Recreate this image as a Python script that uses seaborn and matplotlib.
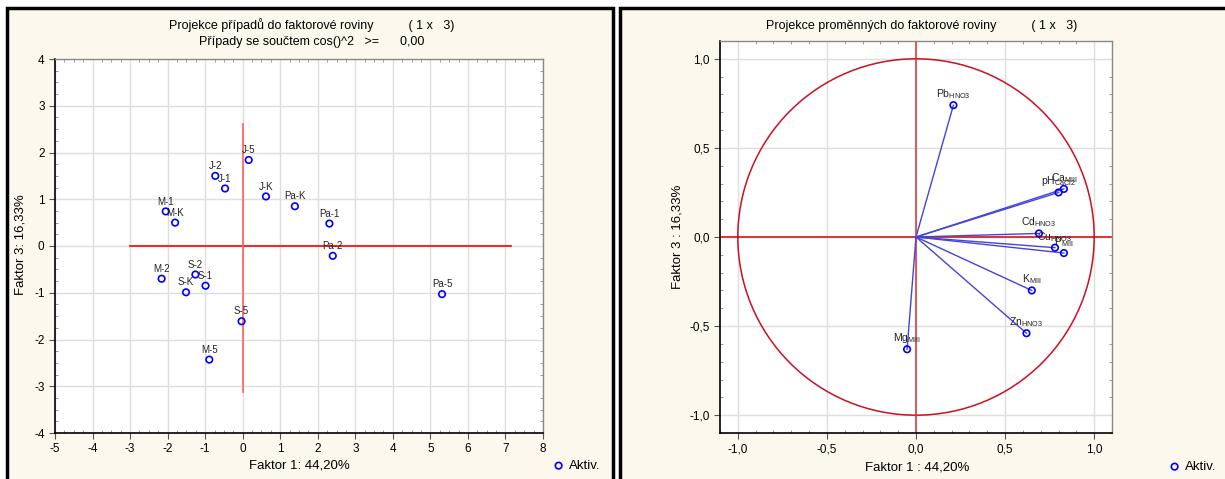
import numpy as np
import seaborn as sns
import matplotlib.pyplot as plt
from matplotlib.patches import Rectangle, Circle
from matplotlib.ticker import MultipleLocator, FuncFormatter

# --- data ---
case_labels = ['J-5', 'J-2', 'J-1', 'J-K', 'Pa-K', 'M-1', 'M-K', 'Pa-1', 'Pa-2',
               'M-2', 'S-2', 'S-1', 'S-K', 'S-5', 'M-5', 'Pa-5']
case_f1 = [0.16, -0.73, -0.47, 0.62, 1.39, -2.05, -1.80, 2.31, 2.40,
           -2.16, -1.26, -0.99, -1.51, -0.03, -0.89, 5.31]
case_f3 = [1.84, 1.50, 1.23, 1.06, 0.85, 0.74, 0.50, 0.48, -0.21,
           -0.70, -0.61, -0.85, -0.99, -1.61, -2.43, -1.03]

var_labels = [r'Pb$_{\rm HNO3}$', r'Ca$_{\rm MIII}$', r'pH$_{\rm CaCl2}$', r'Cd$_{\rm HNO3}$',
              r'Cu$_{\rm HNO3}$', r'P$_{\rm MIII}$', r'K$_{\rm MIII}$', r'Zn$_{\rm HNO3}$',
              r'Mg$_{\rm MIII}$']
var_f1 = [0.21, 0.83, 0.80, 0.69, 0.78, 0.83, 0.65, 0.62, -0.05]
var_f3 = [0.74, 0.27, 0.25, 0.02, -0.06, -0.09, -0.30, -0.54, -0.63]

# red reference cross in the case plot
cross_h = (-3.0, 7.15)
cross_v = (-3.12, 2.6)

plt.rcParams['font.family'] = ['Liberation Sans', 'DejaVu Sans']
plt.rcParams['mathtext.fontset'] = 'custom'
plt.rcParams['mathtext.rm'] = 'Liberation Sans'
plt.rcParams['axes.unicode_minus'] = False

W, H = 1225, 479
fig = plt.figure(figsize=(12.25, 4.79), dpi=100)
fig.patch.set_facecolor('white')

cream = '#fdf8ee'
for x0, x1 in [(7, 613), (620, 1235)]:
    fig.patches.append(Rectangle((x0 / W, -0.02), (x1 - x0) / W, (471 / H) + 0.02,
                                 transform=fig.transFigure, facecolor=cream,
                                 edgecolor='black', linewidth=2.5, zorder=-10))


def px_axes(x0, y0, x1, y1):
    return fig.add_axes([x0 / W, (H - y1) / H, (x1 - x0) / W, (y1 - y0) / H])


def style_axes(ax):
    ax.set_facecolor('white')
    ax.grid(True, color='#dedede', linewidth=1)
    ax.set_axisbelow(True)
    for s in ['left', 'bottom']:
        ax.spines[s].set_color('black')
        ax.spines[s].set_linewidth(1.2)
    for s in ['top', 'right']:
        ax.spines[s].set_color('#888888')
        ax.spines[s].set_linewidth(1)
    ax.tick_params(which='major', direction='out', length=4, labelsize=8.5, color='#555555')
    ax.tick_params(which='minor', direction='in', length=2.5, top=True, right=True, color='#888888')
    ax.set_xlabel('')
    ax.set_ylabel('')


blue = '#0000ff'
leg_kw = dict(loc='center left', bbox_transform=fig.transFigure, frameon=False, fontsize=9.5,
              handletextpad=0.3, handlelength=1.0, borderpad=0, borderaxespad=0)

# ---------------- left: cases ----------------
ax1 = px_axes(55, 59, 543, 433)
style_axes(ax1)
ax1.plot(cross_h, [0, 0], color='#ff0000', lw=1.2, zorder=2)
ax1.plot([0, 0], cross_v, color='#ff6060', lw=1.2, zorder=2)
sns.scatterplot(x=case_f1, y=case_f3, ax=ax1, marker='o', s=22, facecolor='none',
                edgecolor=blue, linewidth=1.2, zorder=3, label='Aktiv.')
for lab, x, y in zip(case_labels, case_f1, case_f3):
    ax1.annotate(lab, (x, y), xytext=(0, 3.5), textcoords='offset points',
                 ha='center', va='bottom', fontsize=7, color='#222222')
ax1.set_xlim(-5, 8)
ax1.set_ylim(-4, 4)
ax1.xaxis.set_major_locator(MultipleLocator(1))
ax1.yaxis.set_major_locator(MultipleLocator(1))
ax1.xaxis.set_minor_locator(MultipleLocator(0.25))
ax1.yaxis.set_minor_locator(MultipleLocator(0.25))
ax1.legend(bbox_to_anchor=(552 / W, 13 / H), **leg_kw)
fig.text(299 / W, 13 / H, 'Faktor 1: 44,20%', ha='center', va='center', fontsize=9.5)
fig.text(21 / W, (H - 245) / H, 'Faktor 3: 16,33%', ha='center', va='center',
         rotation=90, fontsize=9.5)
fig.text(312 / W, (H - 25) / H, 'Projekce případů do faktorové roviny          ( 1 x   3)',
         ha='center', va='center', fontsize=9)
fig.text(312 / W, (H - 42) / H, 'Případy se součtem cos()^2   >=      0,00',
         ha='center', va='center', fontsize=9)

# ---------------- right: variables ----------------
ax2 = px_axes(720, 41, 1112, 433)
style_axes(ax2)
ax2.add_patch(Circle((0, 0), 1.0, fill=False, edgecolor='#cc1020', lw=1.1, zorder=2))
ax2.axhline(0, color='#dd0000', lw=1.1, zorder=2)
ax2.axvline(0, color='#dd3030', lw=1.1, zorder=2)
for x, y in zip(var_f1, var_f3):
    ax2.plot([0, x], [0, y], color='#4444dd', lw=1, zorder=3)
sns.scatterplot(x=var_f1, y=var_f3, ax=ax2, marker='o', s=22, facecolor='none',
                edgecolor=blue, linewidth=1.2, zorder=4, label='Aktiv.')
for lab, x, y in zip(var_labels, var_f1, var_f3):
    ax2.annotate(lab, (x, y), xytext=(0, 3), textcoords='offset points',
                 ha='center', va='bottom', fontsize=7.5, color='#222222')
ax2.set_xlim(-1.1, 1.1)
ax2.set_ylim(-1.1, 1.1)
ax2.xaxis.set_major_locator(MultipleLocator(0.5))
ax2.yaxis.set_major_locator(MultipleLocator(0.5))
ax2.xaxis.set_minor_locator(MultipleLocator(0.1))
ax2.yaxis.set_minor_locator(MultipleLocator(0.1))
comma = FuncFormatter(lambda v, p: f'{v:.1f}'.replace('.', ',').replace('-0,0', '0,0'))
ax2.xaxis.set_major_formatter(comma)
ax2.yaxis.set_major_formatter(comma)
ax2.legend(bbox_to_anchor=(1168 / W, 12 / H), **leg_kw)
fig.text(917 / W, 12 / H, 'Faktor 1 : 44,20%', ha='center', va='center', fontsize=9.5)
fig.text(678 / W, (H - 237) / H, 'Faktor 3 : 16,33%', ha='center', va='center',
         rotation=90, fontsize=9.5)
fig.text(922 / W, (H - 26) / H, 'Projekce proměnných do faktorové roviny          ( 1 x   3)',
         ha='center', va='center', fontsize=9)

fig.savefig('out.png', dpi=100, facecolor='white')
